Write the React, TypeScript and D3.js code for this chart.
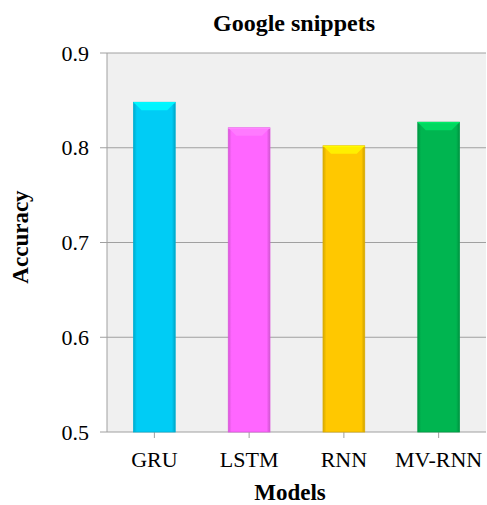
import React from "react";
import * as d3 from "d3";

const categories = ["GRU", "LSTM", "RNN", "MV-RNN"];
const accuracy = [0.848, 0.821, 0.802, 0.827];
const colors = ["#00CCF5", "#FF66FF", "#FFC800", "#00B550"];
const yTicks = [0.5, 0.6, 0.7, 0.8, 0.9];

const W = 487, H = 505;
const margin = { left: 107, right: 1, top: 53, bottom: 73 };

export default function App() {
  const x = d3.scaleBand<string>().domain(categories)
    .range([margin.left, W - margin.right]).paddingInner(0.56).paddingOuter(0.28);
  const y = d3.scaleLinear().domain([0.5, 0.9]).range([H - margin.bottom, margin.top]);
  const font = "'Liberation Serif', 'Times New Roman', serif";
  const bw = x.bandwidth();
  const bev = 8;
  return (
    <div style={{ position: "absolute", left: 0, top: 0 }}>
      <svg width={W} height={H} style={{ display: "block" }}>
        <defs>
          {colors.map((c, i) => {
            const cc = d3.color(c)!;
            return (
              <linearGradient key={i} id={`g${i}`} x1="0" x2="1" y1="0" y2="0">
                <stop offset="0" stopColor={cc.darker(0.5).toString()} />
                <stop offset="0.08" stopColor={c} />
                <stop offset="0.92" stopColor={c} />
                <stop offset="1" stopColor={cc.darker(0.6).toString()} />
              </linearGradient>
            );
          })}
        </defs>
        <rect x={0} y={0} width={W} height={H} fill="#fff" />
        <rect x={margin.left} y={margin.top} width={W - margin.right - margin.left}
          height={y(0.5) - y(0.9)} fill="#F0F0F0" />
        {yTicks.map(t => (
          <g key={t}>
            <line x1={margin.left - 7} x2={W - margin.right} y1={y(t)} y2={y(t)}
              stroke="#A0A0A0" strokeWidth={1} />
            <text x={margin.left - 18} y={y(t)} dy="0.35em" textAnchor="end"
              fontFamily={font} fontSize={22} fill="#000">{t.toFixed(1)}</text>
          </g>
        ))}
        <line x1={margin.left} x2={margin.left} y1={y(0.9)} y2={y(0.5)} stroke="#A0A0A0" />
        {categories.map((c) => {
          const cx = x(c)! + bw / 2;
          return (
            <g key={c}>
              <line x1={cx} x2={cx} y1={y(0.5)} y2={y(0.5) + 6} stroke="#A0A0A0" />
              <text x={cx} y={467} textAnchor="middle" fontFamily={font} fontSize={22}
                fill="#000">{c}</text>
            </g>
          );
        })}
        {categories.map((c, i) => {
          const x0 = x(c)!;
          const yt = y(accuracy[i]);
          const yb = y(0.5);
          const cc = d3.color(colors[i])!;
          return (
            <g key={"b" + c}>
              <rect x={x0} y={yt} width={bw} height={yb - yt} fill={`url(#g${i})`}
                stroke={cc.darker(0.4).toString()} strokeWidth={0.8} />
              <path d={`M${x0},${yt} L${x0 + bw},${yt} L${x0 + bw - bev},${yt + bev} L${x0 + bev},${yt + bev} Z`}
                fill={cc.brighter(0.5).toString()} />
              <line x1={x0} x2={x0 + bw} y1={yt + 0.5} y2={yt + 0.5}
                stroke={cc.brighter(0.8).toString()} strokeWidth={1} />
            </g>
          );
        })}
        <text x={294} y={31} textAnchor="middle" fontFamily={font} fontSize={24}
          fontWeight="bold">Google snippets</text>
        <text x={290} y={500} textAnchor="middle" fontFamily={font} fontSize={23}
          fontWeight="bold">Models</text>
        <text transform={`translate(28, 237) rotate(-90)`}
          textAnchor="middle" fontFamily={font} fontSize={23} fontWeight="bold">Accuracy</text>
      </svg>
    </div>
  );
}
